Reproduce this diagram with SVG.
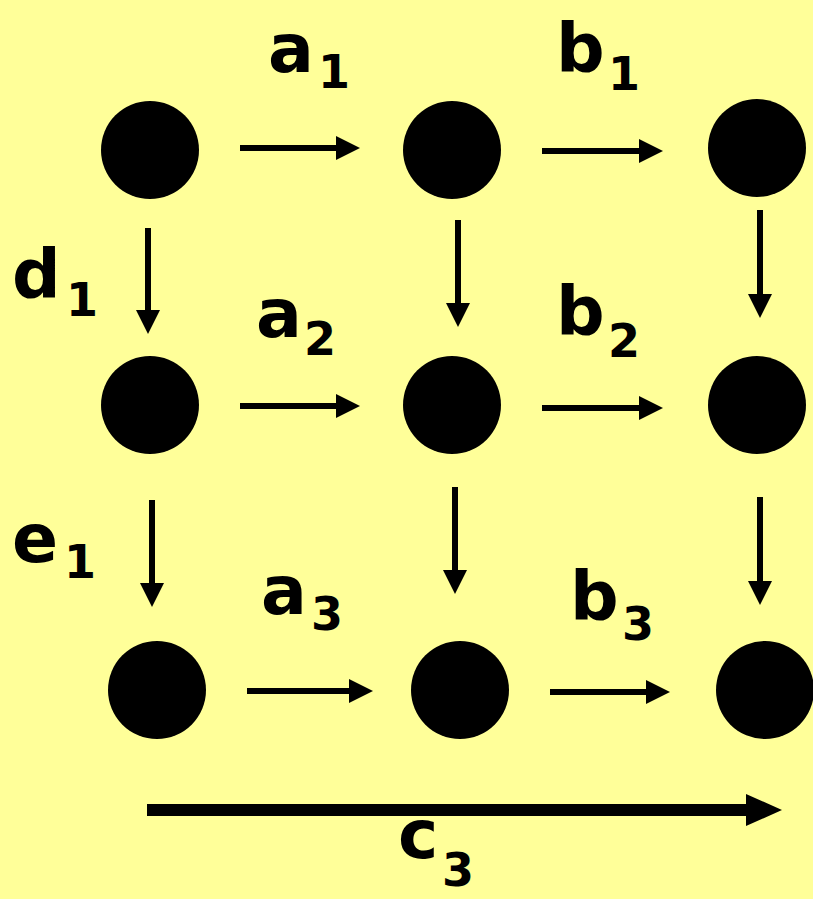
<svg xmlns="http://www.w3.org/2000/svg" width="813" height="899" viewBox="0 0 813 899">
<defs>
<style>
.node{fill:#000}
.lbl{font-family:"DejaVu Sans","Liberation Sans",sans-serif;font-weight:bold;font-size:68px;fill:#000}
.sub{font-size:46px}
.e{stroke:#000;stroke-width:6;fill:none}
.big{stroke:#000;stroke-width:12;fill:none}
</style>
<marker id="ah" markerUnits="userSpaceOnUse" markerWidth="24" markerHeight="24" viewBox="0 0 24 24" refX="2" refY="12" orient="auto"><path d="M0,0 L24,12 L0,24 Z" fill="#000"/></marker>
<marker id="ahb" markerUnits="userSpaceOnUse" markerWidth="36" markerHeight="32" viewBox="0 0 36 32" refX="3" refY="16" orient="auto"><path d="M0,0 L36,16 L0,32 Z" fill="#000"/></marker>
</defs>
<rect width="813" height="899" fill="#FFFF99"/>
<g id="n11"><circle class="node" cx="150" cy="150" r="49"/></g>
<g id="n12"><circle class="node" cx="452" cy="150" r="49"/></g>
<g id="n13"><circle class="node" cx="757" cy="148" r="49"/></g>
<g id="n21"><circle class="node" cx="150" cy="405" r="49"/></g>
<g id="n22"><circle class="node" cx="452" cy="405" r="49"/></g>
<g id="n23"><circle class="node" cx="757" cy="405" r="49"/></g>
<g id="n31"><circle class="node" cx="157" cy="690" r="49"/></g>
<g id="n32"><circle class="node" cx="460" cy="690" r="49"/></g>
<g id="n33"><circle class="node" cx="765" cy="690" r="49"/></g>
<g id="connectors">
<line class="e" x1="240" y1="148" x2="338" y2="148" marker-end="url(#ah)"/>
<line class="e" x1="542" y1="151" x2="641" y2="151" marker-end="url(#ah)"/>
<line class="e" x1="240" y1="406" x2="338" y2="406" marker-end="url(#ah)"/>
<line class="e" x1="542" y1="408" x2="641" y2="408" marker-end="url(#ah)"/>
<line class="e" x1="247" y1="691" x2="351" y2="691" marker-end="url(#ah)"/>
<line class="e" x1="550" y1="692" x2="648" y2="692" marker-end="url(#ah)"/>
<line class="e" x1="148" y1="228" x2="148" y2="312" marker-end="url(#ah)"/>
<line class="e" x1="152" y1="500" x2="152" y2="585" marker-end="url(#ah)"/>
<line class="e" x1="458" y1="220" x2="458" y2="305" marker-end="url(#ah)"/>
<line class="e" x1="455" y1="487" x2="455" y2="572" marker-end="url(#ah)"/>
<line class="e" x1="760" y1="210" x2="760" y2="296" marker-end="url(#ah)"/>
<line class="e" x1="760" y1="497" x2="760" y2="583" marker-end="url(#ah)"/>
<line class="big" x1="147" y1="810" x2="749" y2="810" marker-end="url(#ahb)"/>
</g>
<g id="labels">
<text class="lbl" x="268" y="72">a<tspan class="sub" x="318" y="88">1</tspan></text>
<text class="lbl" x="556" y="72">b<tspan class="sub" x="608" y="90">1</tspan></text>
<text class="lbl" x="12" y="298">d<tspan class="sub" x="66" y="316">1</tspan></text>
<text class="lbl" x="256" y="337">a<tspan class="sub" x="304" y="355">2</tspan></text>
<text class="lbl" x="556" y="335">b<tspan class="sub" x="608" y="357">2</tspan></text>
<text class="lbl" x="12" y="562">e<tspan class="sub" x="64" y="578">1</tspan></text>
<text class="lbl" x="261" y="614">a<tspan class="sub" x="311" y="630">3</tspan></text>
<text class="lbl" x="570" y="620">b<tspan class="sub" x="622" y="640">3</tspan></text>
<text class="lbl" x="398" y="858">c<tspan class="sub" x="442" y="886">3</tspan></text>
</g>
</svg>
